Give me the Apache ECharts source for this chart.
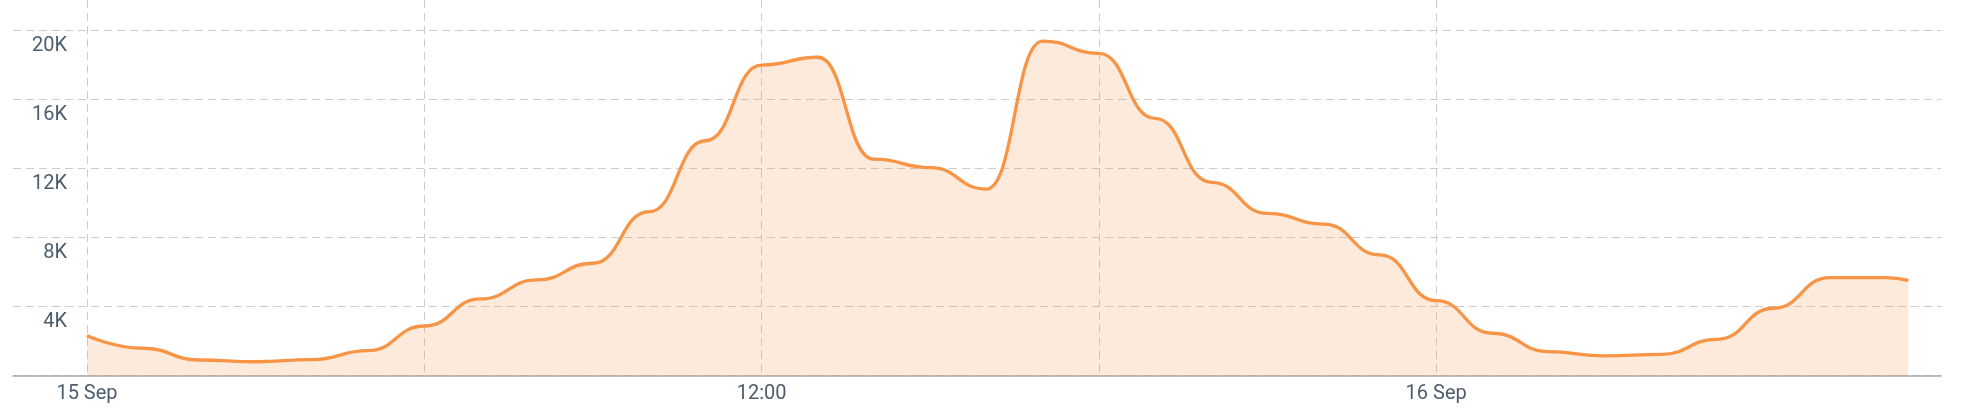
<!DOCTYPE html>
<html>
<head>
<meta charset="utf-8">
<script src="https://cdn.jsdelivr.net/npm/echarts@6/dist/echarts.min.js"></script>
<style>
html,body{margin:0;padding:0;background:#ffffff;}
#chart{width:1972px;height:417px;}
</style>
</head>
<body>
<div id="chart"></div>
<script>
// Hours after 15 Sep 00:00
const hours = [0,1,2,3,4,5,6,7,8,9,10,11,12,13,14,15,16,17,18,19,20,21,22,23,24,25,26,27,28,29,30,31,32,32.4];
const values = [2320,1590,910,810,930,1450,2880,4450,5550,6520,9510,13620,18010,18460,12550,12060,10820,19400,18690,14920,11210,9410,8790,7000,4350,2460,1390,1150,1240,2110,3910,5680,5680,5530];
const yTickValues = [4000,8000,12000,16000,20000];
const yTickLabels = ['4K','8K','12K','16K','20K'];
const xGridHours = [0,6,12,18,24];
const xLabelHours = [0,12,24];
const xLabelTexts = ['15 Sep','12:00','16 Sep'];

const chart = echarts.init(document.getElementById('chart'), null, {renderer: 'canvas'});
const textColor = '#4e5d6c';
const gridColor = '#cccccc';
const lineColor = '#f79446';

chart.setOption({
  animation: false,
  grid: {left: 13, right: 31, top: 0, bottom: 41.3, containLabel: false, outerBoundsMode: 'none'},
  xAxis: {
    type: 'value',
    min: -1.316,
    max: 32.98,
    axisLine: {show: true, onZero: false, lineStyle: {color: '#a6aaad', width: 1.5}},
    axisTick: {show: false, customValues: xGridHours},
    splitLine: {show: true, lineStyle: {color: gridColor, width: 1, type: [8, 5]}},
    axisLabel: {
      customValues: xLabelHours,
      color: textColor,
      fontFamily: 'Roboto',
      fontSize: 20,
      margin: 8,
      formatter: function (v) {
        const i = xLabelHours.indexOf(v);
        return i >= 0 ? xLabelTexts[i] : '';
      }
    }
  },
  yAxis: {
    type: 'value',
    min: 0,
    max: 21780,
    interval: 4000,
    axisLine: {show: false},
    axisTick: {show: false},
    splitLine: {show: true, showMaxLine: false, lineStyle: {color: gridColor, width: 1, type: [8, 5]}},
    axisLabel: {
      inside: true,
      margin: 54,
      align: 'right',
      verticalAlign: 'top',
      padding: [5, 0, 0, 0],
      color: textColor,
      fontFamily: 'Roboto',
      fontSize: 20,
      showMaxLabel: false,
      formatter: function (v) {
        const i = yTickValues.indexOf(v);
        return i >= 0 ? yTickLabels[i] : '';
      }
    }
  },
  series: [{
    type: 'line',
    data: hours.map((h, i) => [h, values[i]]),
    smooth: 0.5,
    smoothMonotone: 'x',
    showSymbol: false,
    symbol: 'none',
    lineStyle: {color: lineColor, width: 3.3},
    itemStyle: {color: lineColor},
    areaStyle: {color: lineColor, opacity: 0.2}
  }]
});
</script>
</body>
</html>
